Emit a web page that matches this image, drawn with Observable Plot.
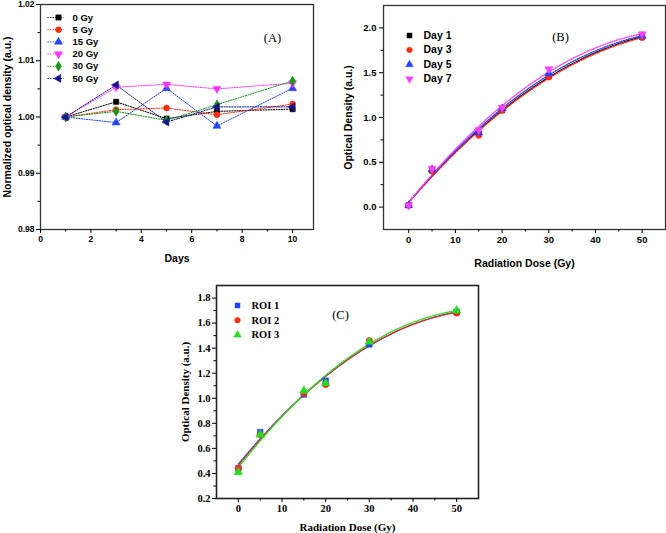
<!DOCTYPE html>
<html><head><meta charset="utf-8">
<script src="https://cdn.jsdelivr.net/npm/d3@7"></script>
<script src="https://cdn.jsdelivr.net/npm/@observablehq/plot@0.6"></script>
<style>
body{margin:0;background:#fff;}
#wrap{position:relative;width:666px;height:533px;overflow:hidden;}
#wrap svg{position:absolute;left:0;top:0;background:none;overflow:visible;}
</style></head><body><div id="wrap"></div>
<script>
// ---------- Panel A data ----------
const daysA = [1, 3, 5, 7, 10];
const seriesA = ["0 Gy", "5 Gy", "15 Gy", "20 Gy", "30 Gy", "50 Gy"];
const odA_0Gy  = [1.0000, 1.0027, 0.9997, 1.0010, 1.0014];
const odA_5Gy  = [1.0000, 1.0013, 1.0016, 1.0004, 1.0023];
const odA_15Gy = [1.0000, 0.9990, 1.0051, 0.9984, 1.0051];
const odA_20Gy = [1.0000, 1.0053, 1.0058, 1.0050, 1.0060];
const odA_30Gy = [1.0000, 1.0010, 0.9994, 1.0022, 1.0064];
const odA_50Gy = [1.0000, 1.0057, 0.9991, 1.0018, 1.0018];
const colorsA = ["#000000", "#ff2a10", "#2244ff", "#ff33ff", "#1a931a", "#14148a"];
const ticksAx = [0, 2, 4, 6, 8, 10];
const ticksAy = [0.98, 0.99, 1.00, 1.01, 1.02];

// ---------- Panel B data ----------
const doseB = [0, 5, 15, 20, 30, 50];
const seriesB = ["Day 1", "Day 3", "Day 5", "Day 7"];
const odB_day1 = [0.02, 0.41, 0.82, 1.08, 1.46, 1.90];
const odB_day3 = [0.02, 0.40, 0.80, 1.08, 1.45, 1.89];
const odB_day5 = [0.02, 0.42, 0.83, 1.10, 1.49, 1.91];
const odB_day7 = [0.02, 0.43, 0.86, 1.11, 1.54, 1.93];
const colorsB = ["#000000", "#ff2a10", "#2244ff", "#ff40ff"];
const ticksBx = [0, 10, 20, 30, 40, 50];
const ticksBy = [0.0, 0.5, 1.0, 1.5, 2.0];

// ---------- Panel C data ----------
const doseC = [0, 5, 15, 20, 30, 50];
const seriesC = ["ROI 1", "ROI 2", "ROI 3"];
const odC_roi1 = [0.44, 0.73, 1.03, 1.14, 1.43, 1.69];
const odC_roi2 = [0.44, 0.71, 1.04, 1.11, 1.46, 1.68];
const odC_roi3 = [0.41, 0.71, 1.06, 1.12, 1.45, 1.70];
const colorsC = ["#2244ff", "#ff2a10", "#22dd22"];
const ticksCx = [0, 10, 20, 30, 40, 50];
const ticksCy = [0.2, 0.4, 0.6, 0.8, 1.0, 1.2, 1.4, 1.6, 1.8];

// ---------- helpers ----------
const S3 = Math.sqrt(3);
const triDown = {draw(c, size){ const y = -Math.sqrt(size/(S3*3)); c.moveTo(0,-2*y); c.lineTo(-S3*y, y); c.lineTo(S3*y, y); c.closePath(); }};
const triLeft = {draw(c, size){ const y = -Math.sqrt(size/(S3*3)); c.moveTo(2*y,0); c.lineTo(-y, -S3*y); c.lineTo(-y, S3*y); c.closePath(); }};
const legendLine = {draw(c){ c.moveTo(-8,0); c.lineTo(8,0); }};

function quadFit(xs, ys){
  let n=xs.length, s1=0,s2=0,s3=0,s4=0,t0=0,t1=0,t2=0;
  for(let i=0;i<n;i++){const x=xs[i],y=ys[i];s1+=x;s2+=x*x;s3+=x*x*x;s4+=x*x*x*x;t0+=y;t1+=x*y;t2+=x*x*y;}
  const M=[[n,s1,s2,t0],[s1,s2,s3,t1],[s2,s3,s4,t2]];
  for(let i=0;i<3;i++){for(let k=i+1;k<3;k++){const f=M[k][i]/M[i][i];for(let j=i;j<4;j++)M[k][j]-=f*M[i][j];}}
  const c=[0,0,0];
  for(let i=2;i>=0;i--){let s=M[i][3];for(let j=i+1;j<3;j++)s-=M[i][j]*c[j];c[i]=s/M[i][i];}
  return x=>c[0]+c[1]*x+c[2]*x*x;
}
function fitCurve(xs, ys, name){
  const f = quadFit(xs, ys);
  return d3.range(0, 50.01, 0.5).map(x => ({x, y: f(x), s: name}));
}
const mid = arr => arr.slice(0,-1).map((v,i)=>(v+arr[i+1])/2);
const T = {text: d => d, fill: "#000", lineAnchor: "middle"};

const wrap = document.getElementById("wrap");
const W = 666, H = 533;

// ================= Panel A =================
{
  const ys = [odA_0Gy, odA_5Gy, odA_15Gy, odA_20Gy, odA_30Gy, odA_50Gy];
  const symbols = ["square", "circle", "triangle", triDown, "diamond", triLeft];
  const rows = [];
  seriesA.forEach((s, k) => daysA.forEach((d, i) => rows.push({day: d, od: ys[k][i], s, k})));
  const marks = [
    Plot.frame({stroke: "#333", strokeWidth: 1.3}),
    Plot.axisX(ticksAx, {tickSize: 4, tickPadding: 2, label: null, tickFormat: d => d}),
    Plot.axisX(d3.range(1, 11, 2), {tickSize: 2.5, label: null, tickFormat: () => ""}),
    Plot.axisY(ticksAy, {tickSize: 4, tickPadding: 2, label: null, tickFormat: d3.format(".2f")}),
    Plot.axisY(mid(ticksAy), {tickSize: 2.5, label: null, tickFormat: () => ""})
  ];
  seriesA.forEach((s, k) => {
    const data = rows.filter(r => r.k === k);
    marks.push(Plot.line(data, {x: "day", y: "od", stroke: colorsA[k], strokeWidth: 1, strokeDasharray: "1.3,1.3"}));
  });
  seriesA.forEach((s, k) => {
    const data = rows.filter(r => r.k === k);
    marks.push(Plot.dot(data, {x: "day", y: "od", symbol: () => symbols[k], fill: colorsA[k], stroke: colorsA[k], strokeWidth: 0.5, r: 3}));
    const dy = 13 + k * 12.2;
    marks.push(Plot.dot([s], {frameAnchor: "top-left", dx: 15, dy, symbol: () => legendLine, stroke: colorsA[k], fill: "none", strokeWidth: 1, strokeDasharray: "1.3,1.3"}));
    marks.push(Plot.dot([s], {frameAnchor: "top-left", dx: 18, dy, symbol: () => symbols[k], fill: colorsA[k], stroke: colorsA[k], strokeWidth: 0.5, r: 3}));
    marks.push(Plot.text([s], {...T, frameAnchor: "top-left", dx: 32, dy, textAnchor: "start", fontSize: 9.5, fontWeight: "bold"}));
  });
  marks.push(Plot.text(["(A)"], {...T, frameAnchor: "top-left", dx: 232, dy: 33, textAnchor: "middle", fontFamily: "Liberation Serif, serif", fontWeight: "normal", fontSize: 12.5}));
  marks.push(Plot.text(["Days"], {...T, frameAnchor: "bottom", dy: 29, textAnchor: "middle", fontSize: 10.5, fontWeight: "bold"}));
  marks.push(Plot.text(["Normalized optical density (a.u.)"], {...T, frameAnchor: "left", dx: -33, rotate: -90, textAnchor: "middle", fontSize: 10.5, fontWeight: "bold"}));
  const svg = Plot.plot({
    width: W, height: H, marginLeft: 40, marginRight: W - 313, marginTop: 4, marginBottom: H - 229,
    x: {domain: [0, 10.83]}, y: {domain: [0.98, 1.02]},
    style: {fontFamily: "Liberation Sans, Arial, sans-serif", fontSize: "8.5px", fontWeight: "bold", color: "#000", background: "none", overflow: "visible"},
    marks
  });
  wrap.appendChild(svg);
}

// ================= Panel B =================
{
  const ys = [odB_day1, odB_day3, odB_day5, odB_day7];
  const symbols = ["square", "circle", "triangle", triDown];
  const marks = [
    Plot.frame({stroke: "#333", strokeWidth: 1.3}),
    Plot.axisX(ticksBx, {tickSize: 4, tickPadding: 3, label: null, tickFormat: d => d}),
    Plot.axisX(mid(ticksBx), {tickSize: 2.5, label: null, tickFormat: () => ""}),
    Plot.axisY(ticksBy, {tickSize: 4, tickPadding: 3, label: null, tickFormat: d3.format(".1f")}),
    Plot.axisY(mid(ticksBy), {tickSize: 2.5, label: null, tickFormat: () => ""})
  ];
  seriesB.forEach((s, k) => {
    marks.push(Plot.line(fitCurve(doseB, ys[k], s), {x: "x", y: "y", stroke: colorsB[k], strokeWidth: 1.4, strokeDasharray: "1.1,1.4"}));
  });
  seriesB.forEach((s, k) => {
    const data = doseB.map((d, i) => ({dose: d, od: ys[k][i]}));
    marks.push(Plot.dot(data, {x: "dose", y: "od", symbol: () => symbols[k], fill: colorsB[k], stroke: colorsB[k], strokeWidth: 0.5, r: 3}));
    const dy = 30 + k * 14.5;
    marks.push(Plot.dot([s], {frameAnchor: "top-left", dx: 26, dy, symbol: () => symbols[k], fill: colorsB[k], stroke: colorsB[k], strokeWidth: 0.5, r: 2.8}));
    marks.push(Plot.text([s], {...T, frameAnchor: "top-left", dx: 40, dy, textAnchor: "start", fontSize: 10.5, fontWeight: "bold"}));
  });
  marks.push(Plot.text(["(B)"], {...T, frameAnchor: "top-left", dx: 177, dy: 31, textAnchor: "middle", fontFamily: "Liberation Serif, serif", fontWeight: "normal", fontSize: 12.5}));
  marks.push(Plot.text(["Radiation Dose (Gy)"], {...T, frameAnchor: "bottom", dy: 34, textAnchor: "middle", fontSize: 10.5, fontWeight: "bold"}));
  marks.push(Plot.text(["Optical Density (a.u.)"], {...T, frameAnchor: "left", dx: -35, rotate: -90, textAnchor: "middle", fontSize: 10.5, fontWeight: "bold"}));
  const svg = Plot.plot({
    width: W, height: H, marginLeft: 383, marginRight: 1, marginTop: 5, marginBottom: H - 229,
    x: {domain: [-5.4, 55]}, y: {domain: [-0.25, 2.25]},
    style: {fontFamily: "Liberation Sans, Arial, sans-serif", fontSize: "9.5px", fontWeight: "bold", color: "#000", background: "none", overflow: "visible"},
    marks
  });
  wrap.appendChild(svg);
}

// ================= Panel C =================
{
  const ys = [odC_roi1, odC_roi2, odC_roi3];
  const symbols = ["square", "circle", "triangle"];
  const marks = [
    Plot.frame({stroke: "#222", strokeWidth: 1.6}),
    Plot.axisX(ticksCx, {tickSize: 4, tickPadding: 2, label: null, tickFormat: d => d}),
    Plot.axisX(mid(ticksCx), {tickSize: 2.5, label: null, tickFormat: () => ""}),
    Plot.axisY(ticksCy, {tickSize: 4, tickPadding: 2, label: null, tickFormat: d3.format(".1f")}),
    Plot.axisY(mid(ticksCy), {tickSize: 2.5, label: null, tickFormat: () => ""})
  ];
  seriesC.forEach((s, k) => {
    marks.push(Plot.line(fitCurve(doseC, ys[k], s), {x: "x", y: "y", stroke: colorsC[k], strokeWidth: 1.4, strokeDasharray: "1.1,1.4"}));
  });
  seriesC.forEach((s, k) => {
    const data = doseC.map((d, i) => ({dose: d, od: ys[k][i]}));
    marks.push(Plot.dot(data, {x: "dose", y: "od", symbol: () => symbols[k], fill: colorsC[k], stroke: colorsC[k], strokeWidth: 0.5, r: 3.2}));
    const dy = 20 + k * 14.7;
    marks.push(Plot.dot([s], {frameAnchor: "top-left", dx: 21, dy, symbol: () => symbols[k], fill: colorsC[k], stroke: colorsC[k], strokeWidth: 0.5, r: 2.8}));
    marks.push(Plot.text([s], {...T, frameAnchor: "top-left", dx: 35, dy, textAnchor: "start", fontSize: 10.5, fontWeight: "bold"}));
  });
  marks.push(Plot.text(["(C)"], {...T, frameAnchor: "top-left", dx: 124, dy: 29, textAnchor: "middle", fontFamily: "Liberation Serif, serif", fontWeight: "normal", fontSize: 12.5}));
  marks.push(Plot.text(["Radiation Dose (Gy)"], {...T, frameAnchor: "bottom", dy: 29, textAnchor: "middle", fontSize: 11, fontWeight: "bold"}));
  marks.push(Plot.text(["Optical Density (a.u.)"], {...T, frameAnchor: "left", dx: -31, rotate: -90, textAnchor: "middle", fontSize: 11, fontWeight: "bold"}));
  const svg = Plot.plot({
    width: W, height: H, marginLeft: 216, marginRight: W - 478, marginTop: 285, marginBottom: H - 498,
    x: {domain: [-5, 55]}, y: {domain: [0.2, 1.9]},
    style: {fontFamily: "Liberation Serif, Times New Roman, serif", fontSize: "10.5px", fontWeight: "bold", color: "#000", background: "none", overflow: "visible"},
    marks
  });
  wrap.appendChild(svg);
}
</script></body></html>
